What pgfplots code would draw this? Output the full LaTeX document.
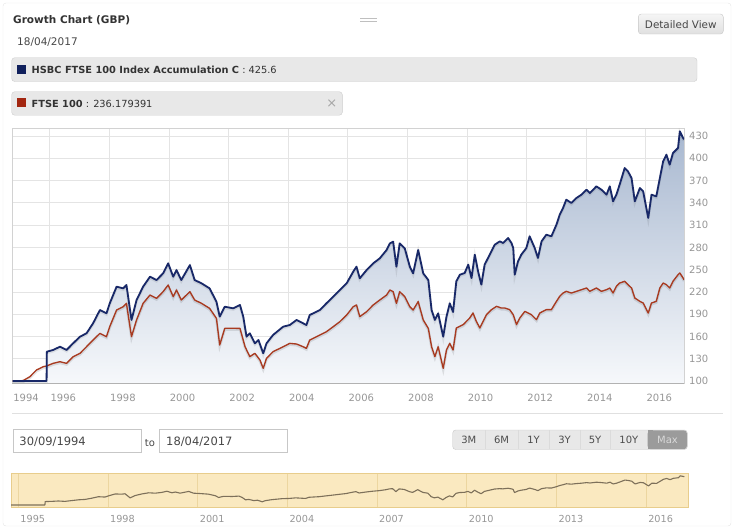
\documentclass[border=0pt]{standalone}
\usepackage{fontspec}
\setmainfont{DejaVu Sans}
\usepackage{pgfplots}
\pgfplotsset{compat=1.18}
\usepackage{pgfplotstable}

\definecolor{navyc}{RGB}{24,40,104}
\definecolor{redc}{RGB}{168,58,32}
\definecolor{navysq}{RGB}{16,32,92}
\definecolor{redsq}{RGB}{162,38,16}
\definecolor{filltop}{RGB}{168,184,208}
\definecolor{fillbot}{RGB}{246,248,251}
\definecolor{gridc}{RGB}{228,228,228}
\definecolor{axisc}{RGB}{210,210,210}
\definecolor{tickc}{RGB}{150,150,150}
\definecolor{titlec}{RGB}{51,51,51}
\definecolor{legfill}{RGB}{232,232,232}
\definecolor{legline}{RGB}{205,205,205}
\definecolor{framec}{RGB}{228,228,228}
\definecolor{btnfill}{RGB}{232,232,232}
\definecolor{btnline}{RGB}{200,200,200}
\definecolor{maxc}{RGB}{155,155,155}
\definecolor{navfill}{RGB}{250,233,192}
\definecolor{navborder}{RGB}{232,205,140}
\definecolor{navgrid}{RGB}{236,214,160}
\definecolor{navline}{RGB}{125,112,90}

\newcommand\fs[1]{\fontsize{#1}{#1}\selectfont}

\pgfplotstableread{
x y
1994.75 100
1995.89 100
1995.90 139.5
1996.11 141.8
1996.34 146.2
1996.56 141.8
1996.78 150.7
1997.01 159.7
1997.23 164.2
1997.45 177.7
1997.68 195.6
1997.90 191.2
1998.01 204.6
1998.24 227.1
1998.46 224.8
1998.57 229.3
1998.74 182.2
1998.91 209.1
1999.13 227.1
1999.36 240.5
1999.58 236.0
1999.80 245.0
1999.97 258.5
2000.14 240.5
2000.25 249.5
2000.41 236.0
2000.70 256.2
2000.86 236.0
2001.09 231.6
2001.36 224.8
2001.59 206.9
2001.70 186.7
2001.87 200.1
2002.15 197.9
2002.38 202.4
2002.49 186.7
2002.60 159.7
2002.71 164.2
2002.88 150.7
2003.00 155.2
2003.16 137.3
2003.27 150.7
2003.49 162.0
2003.83 173.2
2004.05 175.4
2004.28 182.2
2004.50 177.7
2004.61 175.4
2004.72 188.9
2005.06 195.6
2005.28 204.6
2005.51 213.6
2005.73 222.6
2005.96 231.6
2006.18 247.3
2006.29 254.0
2006.40 238.3
2006.63 249.5
2006.85 258.5
2007.07 265.2
2007.30 276.5
2007.41 285.4
2007.52 287.7
2007.63 254.0
2007.74 285.4
2007.91 278.7
2008.08 254.0
2008.19 245.0
2008.36 276.5
2008.53 245.0
2008.70 236.0
2008.81 195.6
2008.92 182.2
2009.03 191.1
2009.20 159.7
2009.31 186.7
2009.42 204.6
2009.53 193.0
2009.64 234.3
2009.76 243.2
2009.92 245.5
2010.04 256.7
2010.15 238.7
2010.26 270.2
2010.37 247.7
2010.48 229.8
2010.59 256.7
2010.76 270.2
2010.93 283.6
2011.10 288.1
2011.21 285.9
2011.38 292.6
2011.49 285.9
2011.55 279.2
2011.60 243.2
2011.71 261.2
2011.82 270.2
2011.99 279.2
2012.10 294.9
2012.27 279.2
2012.38 265.7
2012.50 288.1
2012.66 297.1
2012.83 294.9
2013.00 310.6
2013.11 324.1
2013.22 333.0
2013.33 344.3
2013.50 339.8
2013.67 346.5
2013.84 351.0
2014.01 357.7
2014.12 353.2
2014.34 362.2
2014.51 357.7
2014.68 351.0
2014.79 362.2
2014.90 342.0
2015.01 351.0
2015.12 364.5
2015.29 386.9
2015.40 382.4
2015.52 373.4
2015.63 342.0
2015.80 360.0
2015.91 355.5
2016.08 319.6
2016.19 351.0
2016.35 348.7
2016.47 373.4
2016.58 395.9
2016.69 404.9
2016.80 391.4
2016.91 407.1
2017.08 413.9
2017.14 436.3
2017.25 427.3
2017.28 425.6
}\navy

\pgfplotstableread{
x y
1994.75 100
1995.10 100.5
1995.33 105.8
1995.55 114.8
1995.78 119.3
1995.89 120.2
1996.11 123.8
1996.34 126.0
1996.56 123.8
1996.78 132.7
1997.01 137.2
1997.23 146.2
1997.45 155.2
1997.68 164.2
1997.90 159.7
1998.01 173.2
1998.24 195.6
1998.46 200.1
1998.57 204.6
1998.74 159.7
1998.91 182.2
1999.13 204.6
1999.36 215.8
1999.58 211.4
1999.80 220.3
1999.97 229.3
2000.14 213.6
2000.25 222.6
2000.41 209.1
2000.70 220.3
2000.86 209.1
2001.09 204.6
2001.36 197.9
2001.59 184.4
2001.70 148.5
2001.87 171.0
2002.15 171.0
2002.38 170.9
2002.55 146.2
2002.71 132.8
2002.88 137.3
2003.05 128.3
2003.16 117.1
2003.27 130.5
2003.49 139.5
2003.83 146.2
2004.05 150.7
2004.28 149.8
2004.50 146.2
2004.61 144.0
2004.72 155.2
2005.06 162.0
2005.28 166.4
2005.51 173.2
2005.73 179.9
2005.96 188.9
2006.18 200.1
2006.29 202.4
2006.40 186.7
2006.63 193.4
2006.85 202.4
2007.07 209.1
2007.30 215.8
2007.41 222.6
2007.52 220.3
2007.63 204.6
2007.74 220.3
2007.91 213.6
2008.08 200.1
2008.19 195.6
2008.36 206.9
2008.53 182.2
2008.70 170.9
2008.81 146.2
2008.92 132.8
2009.03 146.2
2009.20 117.1
2009.31 141.8
2009.42 150.7
2009.53 141.8
2009.64 171.4
2009.87 175.9
2010.09 184.9
2010.20 191.6
2010.31 180.4
2010.43 171.4
2010.65 189.3
2010.82 196.1
2010.99 200.6
2011.15 198.3
2011.27 198.3
2011.43 196.1
2011.55 189.3
2011.66 175.9
2011.77 184.9
2011.94 193.8
2012.16 189.3
2012.33 182.6
2012.44 191.6
2012.66 196.1
2012.83 196.1
2013.00 207.3
2013.11 214.1
2013.22 218.5
2013.33 220.8
2013.50 218.5
2013.67 220.8
2013.84 223.0
2014.01 225.3
2014.12 220.8
2014.34 225.3
2014.51 220.8
2014.68 223.0
2014.79 225.3
2014.90 218.5
2015.01 227.5
2015.12 232.0
2015.29 234.3
2015.40 229.8
2015.52 225.3
2015.63 211.8
2015.80 207.3
2015.91 205.1
2016.08 191.6
2016.19 205.1
2016.35 207.3
2016.47 225.3
2016.58 232.0
2016.69 229.8
2016.80 225.3
2016.91 234.3
2017.08 243.2
2017.14 245.5
2017.25 238.7
2017.28 236.2
}\ftse

\begin{document}
\begin{tikzpicture}[x=1pt,y=1pt]
% widget frame
\draw[framec, rounded corners=3pt] (3,-3) rectangle (731,-526);

% header
\node[anchor=west, inner sep=0pt, font=\fs{10.5}\bfseries, text=titlec] at (13,-20) {Growth Chart (GBP)};
\node[anchor=west, inner sep=0pt, font=\fs{10.5}, text=titlec!90] at (17,-42.3) {18/04/2017};
\draw[black!25, line width=1pt] (360,-18.5) -- (377,-18.5) (360,-21.5) -- (377,-21.5);
\draw[btnline, top color=white!96!black, bottom color=white!88!black, rounded corners=3pt] (638.3,-14) rectangle (723.3,-34);
\node[font=\fs{10.4}, text=black!72] at (680.8,-24.2) {Detailed View};

% legend boxes
\draw[legline, fill=legfill, rounded corners=3pt] (11.7,-57.7) rectangle (697,-81.5);
\fill[navysq] (16.7,-65) rectangle (25.9,-74);
\node[anchor=west, inner sep=0pt, font=\fs{9.8}, text=titlec] at (31.5,-70.2) {\textbf{HSBC FTSE 100 Index Accumulation C} : 425.6};
\draw[legline, fill=legfill, rounded corners=3pt] (11.7,-91.7) rectangle (342.3,-115.2);
\fill[redsq] (16.7,-98.3) rectangle (25.9,-107.3);
\node[anchor=west, inner sep=0pt, font=\fs{9.8}, text=titlec] at (31.5,-103.6) {\textbf{FTSE 100} : 236.179391};
\node[font=\fs{13}, text=black!35] at (331.7,-103.5) {×};

% main chart
\begin{axis}[
  at={(12pt,-383pt)}, anchor=south west, scale only axis,
  width=672pt, height=255pt,
  xmin=1994.73, xmax=2017.28, ymin=97.3, ymax=440.8,
  xtick={1994.75,1996,1998,2000,2002,2004,2006,2008,2010,2012,2014,2016},
  xticklabels={1994,1996,1998,2000,2002,2004,2006,2008,2010,2012,2014,2016},
  ytick={100,130,160,190,220,250,280,310,340,370,400,430},
  yticklabel pos=right,
  grid=major, grid style={draw=gridc, line width=0.8pt},
  major tick length=0pt,
  axis line style={draw=axisc, line width=0.8pt},
  tick label style={font=\fs{10}, text=tickc},
  xticklabel style={anchor=center, inner sep=0pt, xshift=13.5pt, yshift=-14.5pt},
  yticklabel style={anchor=west, inner sep=0pt, xshift=5pt},
  /pgf/number format/assume math mode=true,
  axis on top=false,
]
\addplot[draw=none, top color=filltop, bottom color=fillbot, forget plot] table[x=x,y=y]{\navy} |- (axis cs:1994.75,97.3) -- cycle;
\addplot[black, draw opacity=0.10, line width=2.6pt, yshift=-1.2pt, forget plot] table[x=x,y=y]{\ftse};
\addplot[black, draw opacity=0.08, line width=2.6pt, yshift=-1.2pt, forget plot] table[x=x,y=y]{\navy};
\addplot[redc, line width=1.35pt, line join=round, mark=none] table[x=x,y=y]{\ftse};
\addplot[navyc, line width=1.8pt, line join=round, mark=none] table[x=x,y=y]{\navy};
\end{axis}
\draw[black!30, line width=1pt] (12,-383) -- (684,-383);

% separator
\draw[black!12, line width=0.8pt] (12,-413.5) -- (723,-413.5);

% date range boxes
\draw[black!22, fill=white] (12.7,-429.5) rectangle (140.7,-452);
\node[anchor=west, inner sep=0pt, font=\fs{11.5}, text=black!72] at (19.3,-441.5) {30/09/1994};
\node[font=\fs{10}, text=black!72] at (150,-443.5) {to};
\draw[black!22, fill=white] (159.3,-429.5) rectangle (286.7,-452);
\node[anchor=west, inner sep=0pt, font=\fs{11.5}, text=black!72] at (166,-441.5) {18/04/2017};

% range buttons
\draw[btnline, fill=btnfill, rounded corners=3pt] (452.7,-430) rectangle (687.3,-449.5);
\fill[maxc, rounded corners=3pt] (647.7,-430.4) rectangle (686.9,-449.1);
\fill[maxc] (647.7,-430.4) rectangle (653,-449.1);
\foreach \d in {485,518.3,549,580,610}{\draw[black!14, line width=0.8pt] (\d,-430.4) -- (\d,-449.1);}
\node[font=\fs{10}, text=black!70] at (468.8,-440) {3M};
\node[font=\fs{10}, text=black!70] at (501.6,-440) {6M};
\node[font=\fs{10}, text=black!70] at (533.6,-440) {1Y};
\node[font=\fs{10}, text=black!70] at (564.5,-440) {3Y};
\node[font=\fs{10}, text=black!70] at (595,-440) {5Y};
\node[font=\fs{10}, text=black!70] at (628.8,-440) {10Y};
\node[font=\fs{10}, text=black!15] at (667.5,-440) {Max};

% navigator
\begin{axis}[
  at={(11pt,-507pt)}, anchor=south west, scale only axis,
  width=677pt, height=34pt,
  xmin=1994.756, xmax=2017.40, ymin=77, ymax=468,
  axis background/.style={fill=navfill},
  axis line style={draw=navborder, line width=0.8pt},
  xtick={1995,1998,2001,2004,2007,2010,2013,2016},
  ytick=\empty,
  xmajorgrids, grid style={draw=navgrid, line width=0.6pt},
  major tick length=0pt,
  tick label style={font=\fs{9.7}, text=tickc},
  xticklabel style={anchor=center, inner sep=0pt, xshift=14.5pt, yshift=-12.3pt},
  /pgf/number format/assume math mode=true,
  /pgf/number format/1000 sep={},
]
\addplot[navline, line width=1.1pt, mark=none, line join=round] table[x=x,y=y]{\navy};
\end{axis}

\pgfresetboundingbox
\useasboundingbox (0,0) rectangle (739,-531);
\end{tikzpicture}
\end{document}
